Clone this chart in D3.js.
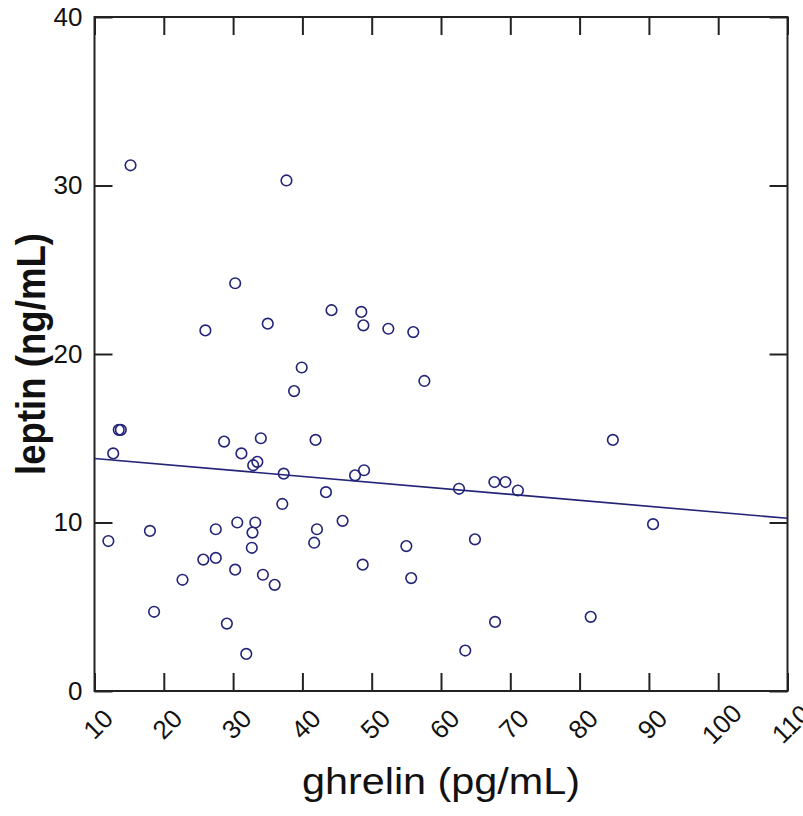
<!DOCTYPE html>
<html>
<head>
<meta charset="utf-8">
<script src="https://cdn.jsdelivr.net/npm/d3@7"></script>
<style>
  body { margin: 0; background: #fff; }
  svg { display: block; font-family: "Liberation Sans", Arial, sans-serif; }
</style>
</head>
<body>
<svg id="chart" width="803" height="816"></svg>
<script>
// ghrelin (x) vs leptin (y)
const ghrelin = [15.2, 37.7, 30.3, 26.0, 35.0, 44.2, 48.5, 48.8, 52.4, 56.0,
  39.9, 38.8, 57.6, 13.5, 13.8, 12.7, 28.7, 34.0, 41.9, 31.2,
  33.5, 32.9, 37.3, 47.6, 48.9, 62.6, 43.4, 37.1, 12.0, 18.0,
  27.5, 30.6, 33.2, 32.8, 32.7, 42.1, 41.7, 45.8, 27.5, 25.7,
  30.3, 34.3, 36.0, 22.7, 18.6, 29.1, 31.9, 48.7, 55.0, 55.7,
  63.5, 64.9, 84.8, 67.7, 69.3, 71.1, 90.6, 67.8, 81.6];
const leptin = [31.2, 30.3, 24.2, 21.4, 21.8, 22.6, 22.5, 21.7, 21.5, 21.3,
  19.2, 17.8, 18.4, 15.5, 15.5, 14.1, 14.8, 15.0, 14.9, 14.1,
  13.6, 13.4, 12.9, 12.8, 13.1, 12.0, 11.8, 11.1, 8.9, 9.5,
  9.6, 10.0, 10.0, 9.4, 8.5, 9.6, 8.8, 10.1, 7.9, 7.8,
  7.2, 6.9, 6.3, 6.6, 4.7, 4.0, 2.2, 7.5, 8.6, 6.7,
  2.4, 9.0, 14.9, 12.4, 12.4, 11.9, 9.9, 4.1, 4.4];

// regression line end points
const fitX = [10, 110];
const fitY = [13.8, 10.25];

const xTicks = [10, 20, 30, 40, 50, 60, 70, 80, 90, 100, 110];
const yTicks = [0, 10, 20, 30, 40];

const svg = d3.select("#chart");
const m = { left: 94.5, right: 787.5, top: 17, bottom: 691 };
const navy = "#232378";

const x = d3.scaleLinear().domain([10, 110]).range([m.left, m.right]);
const y = d3.scaleLinear().domain([0, 40]).range([m.bottom, m.top]);

svg.append("rect").attr("width", 803).attr("height", 816).attr("fill", "#fff");

// axes, ticks pointing inward on every side
const gx = svg.append("g").attr("transform", `translate(0,${m.bottom})`)
  .call(d3.axisBottom(x).tickValues(xTicks).tickSize(-18).tickFormat(d3.format("d")));
gx.selectAll("text")
  .attr("y", 0).attr("dy", "0.35em")
  .attr("text-anchor", "middle")
  .attr("transform", "translate(3,33) rotate(-45)");

svg.append("g").attr("transform", `translate(0,${m.top})`)
  .call(d3.axisTop(x).tickValues(xTicks).tickSize(-18).tickFormat(""));

svg.append("g").attr("transform", `translate(${m.left},0)`)
  .call(d3.axisLeft(y).tickValues(yTicks).tickSize(-18).tickPadding(12));

svg.append("g").attr("transform", `translate(${m.right},0)`)
  .call(d3.axisRight(y).tickValues(yTicks).tickSize(-18).tickFormat(""));

svg.selectAll(".domain").remove();
svg.selectAll(".tick line").attr("stroke", "#222").attr("stroke-width", 2);
svg.selectAll(".tick text").attr("font-size", 26).attr("fill", "#111")
  .attr("font-family", "'Liberation Sans', Arial, sans-serif");

// frame
svg.append("rect")
  .attr("x", m.left).attr("y", m.top)
  .attr("width", m.right - m.left).attr("height", m.bottom - m.top)
  .attr("fill", "none").attr("stroke", "#222").attr("stroke-width", 2);

// fitted line
svg.append("line")
  .attr("x1", x(fitX[0])).attr("y1", y(fitY[0]))
  .attr("x2", x(fitX[1])).attr("y2", y(fitY[1]))
  .attr("stroke", navy).attr("stroke-width", 1.6);

// points
svg.append("g")
  .selectAll("circle")
  .data(d3.zip(ghrelin, leptin))
  .join("circle")
  .attr("cx", d => x(d[0]))
  .attr("cy", d => y(d[1]))
  .attr("r", 5.3)
  .attr("fill", "none")
  .attr("stroke", navy)
  .attr("stroke-width", 1.6);

// axis titles
svg.append("text")
  .attr("x", (m.left + m.right) / 2).attr("y", 794)
  .attr("text-anchor", "middle")
  .attr("font-size", 36)
  .attr("textLength", 278).attr("lengthAdjust", "spacingAndGlyphs")
  .attr("fill", "#111")
  .text("ghrelin (pg/mL)");

svg.append("text")
  .attr("transform", "translate(45,354) rotate(-90)")
  .attr("text-anchor", "middle")
  .attr("font-size", 40).attr("font-weight", "bold")
  .attr("textLength", 242).attr("lengthAdjust", "spacingAndGlyphs")
  .attr("fill", "#111")
  .text("leptin (ng/mL)");
</script>
</body>
</html>
